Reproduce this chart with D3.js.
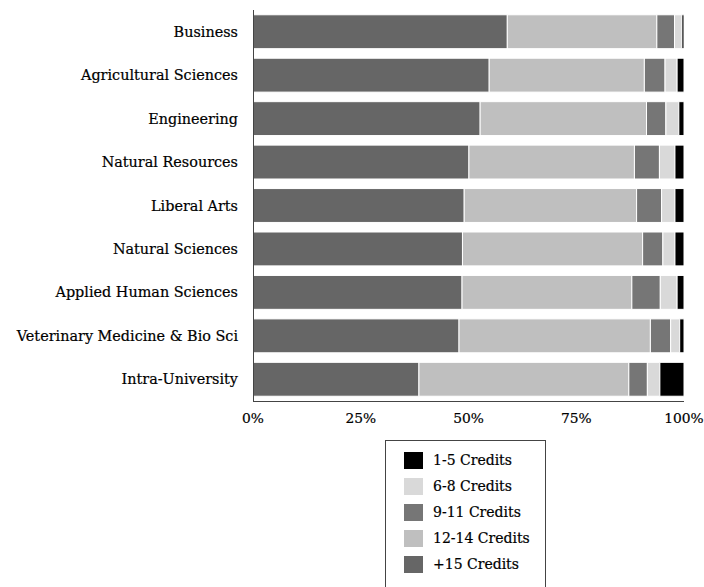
<!DOCTYPE html>
<html><head><meta charset="utf-8">
<script src="https://cdn.jsdelivr.net/npm/d3@7"></script>
<style>body{margin:0;background:#fff}svg{display:block}text{font-family:"DejaVu Serif",serif;fill:#000}</style>
</head><body>
<script>
const categories = ["Business","Agricultural Sciences","Engineering","Natural Resources","Liberal Arts","Natural Sciences","Applied Human Sciences","Veterinary Medicine & Bio Sci","Intra-University"];
const seriesNames = ["+15 Credits","12-14 Credits","9-11 Credits","6-8 Credits","1-5 Credits"];
const plus15   = [59.0,54.8,52.7,50.1,49.0,48.6,48.5,47.8,38.5];
const c12to14  = [34.7,36.0,38.6,38.4,40.0,41.8,39.4,44.4,48.7];
const c9to11   = [4.1,4.8,4.5,5.8,5.8,4.7,6.6,4.7,4.3];
const c6to8    = [1.7,2.8,3.0,3.6,3.1,2.8,3.9,2.1,2.9];
const c1to5    = [0.5,1.6,1.2,2.1,2.1,2.1,1.6,1.0,5.6];
const tickValues = [0,25,50,75,100];
const tickLabels = ["0%","25%","50%","75%","100%"];
const colors = ["#666666","#bfbfbf","#767676","#d9d9d9","#000000"];
const legendOrder = ["1-5 Credits","6-8 Credits","9-11 Credits","12-14 Credits","+15 Credits"];

const W=704,H=587;
const svg=d3.select("body").append("svg").attr("width",W).attr("height",H);
const x=d3.scaleLinear().domain([0,100]).range([253,684]);
const y=d3.scaleBand().domain(categories).range([10,401]).paddingInner(0.22).paddingOuter(0.11);
const color=d3.scaleOrdinal().domain(seriesNames).range(colors);

const table=categories.map((c,i)=>({cat:c,"+15 Credits":plus15[i],"12-14 Credits":c12to14[i],"9-11 Credits":c9to11[i],"6-8 Credits":c6to8[i],"1-5 Credits":c1to5[i]}));
const stacked=d3.stack().keys(seriesNames)(table);

svg.append("g").selectAll("g").data(stacked).join("g").attr("fill",d=>color(d.key))
  .selectAll("rect").data(d=>d).join("rect")
  .attr("x",d=>x(d[0])).attr("width",d=>x(d[1])-x(d[0]))
  .attr("y",d=>y(d.data.cat)).attr("height",y.bandwidth())
  .attr("stroke","#fff").attr("stroke-width",1);

// axes lines
svg.append("line").attr("x1",253.5).attr("x2",253.5).attr("y1",10).attr("y2",401.5).attr("stroke","#444");
svg.append("line").attr("x1",253).attr("x2",684).attr("y1",401.5).attr("y2",401.5).attr("stroke","#444");

// category labels
svg.append("g").selectAll("text").data(categories).join("text")
  .attr("x",238).attr("y",d=>y(d)+y.bandwidth()/2).attr("dy","0.35em")
  .attr("text-anchor","end").attr("font-size",14.4).attr("stroke","#000").attr("stroke-width",0.2).text(d=>d);

// tick labels
svg.append("g").selectAll("text").data(tickValues).join("text")
  .attr("x",d=>x(d)).attr("y",423).attr("text-anchor","middle").attr("font-size",13.8).attr("stroke","#000").attr("stroke-width",0.2)
  .text((d,i)=>tickLabels[i]);

// legend
const lg=svg.append("g");
lg.append("rect").attr("x",385.5).attr("y",440.5).attr("width",160).attr("height",160).attr("fill","#fff").attr("stroke","#444");
const items=lg.selectAll("g").data(legendOrder).join("g").attr("transform",(d,i)=>`translate(404,${452+i*26})`);
items.append("rect").attr("width",19).attr("height",17).attr("fill",d=>color(d));
items.append("text").attr("x",29).attr("y",8.5).attr("dy","0.35em").attr("font-size",14).attr("stroke","#000").attr("stroke-width",0.2).text(d=>d);
</script>
</body></html>
